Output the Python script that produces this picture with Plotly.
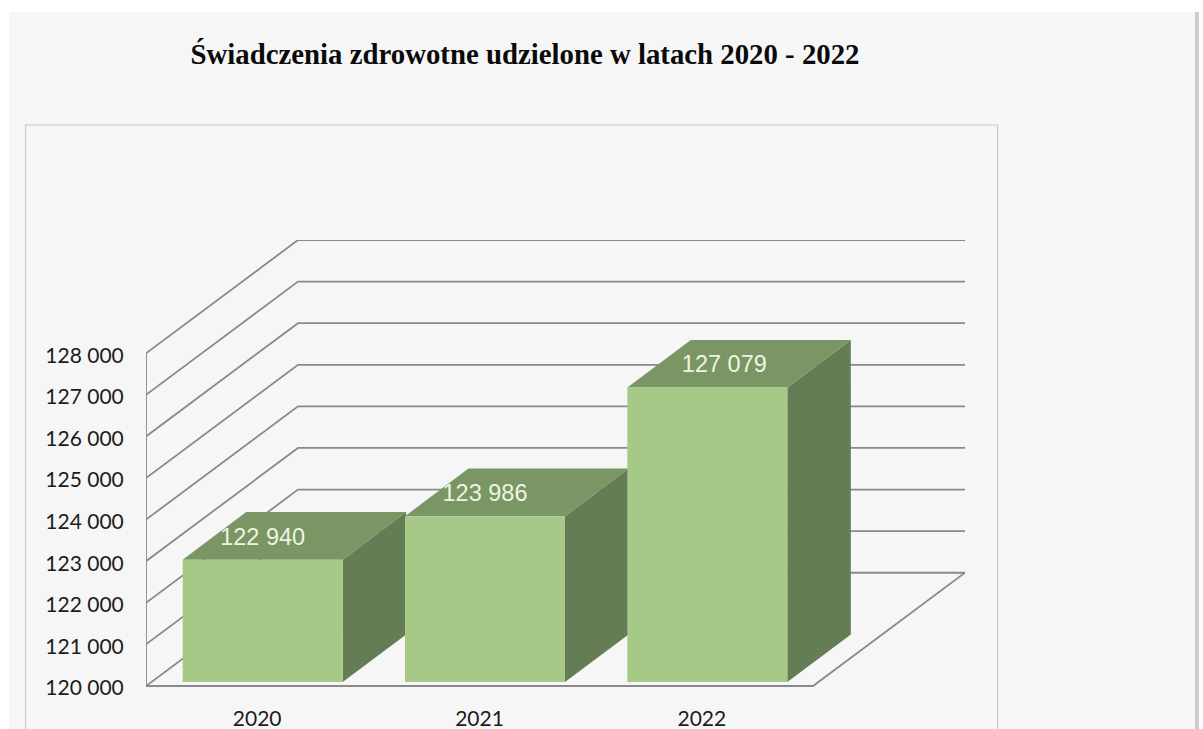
import plotly.graph_objects as go

years = ["2020", "2021", "2022"]
values = [122940, 123986, 127079]
value_labels = ["122 940", "123 986", "127 079"]
tick_values = [120000, 121000, 122000, 123000, 124000, 125000, 126000, 127000, 128000]
tick_labels = ["120 000", "121 000", "122 000", "123 000", "124 000", "125 000", "126 000", "127 000", "128 000"]
title_text = "Świadczenia zdrowotne udzielone w latach 2020 - 2022"

W, H = 1203, 729
PX_LEFT, PX_FRONT_RIGHT, PX_BACK_RIGHT = 146, 813, 965
PX_FLOOR, PX_BACK_TOP = 686, 240
PX_PER_CAT = (PX_FRONT_RIGHT - PX_LEFT) / 3
PX_PER_VAL = 41.5 / 1000
VMIN = tick_values[0]

def dx(px):
    return px / PX_PER_CAT

def dv(px):
    return px / PX_PER_VAL

WALL_DX, WALL_DV = dx(152), dv(113)
BAR_DX, BAR_DV = dx(63.5), dv(47.5)
GAP_DX, GAP_DV = dx(5.5), dv(4.0)
HALF = dx(80)
LABEL_NUDGE = [dx(0), dx(0), dx(17)]
LABEL_UP = dv(21)
TICK_PX = 2
TICK_NUDGE = dv(TICK_PX)

GRID = "#8a8a8a"
FRONT, TOP, SIDE = "#a6c988", "#7a9664", "#647d55"
PANEL, FRAME = "#f6f6f6", "#c9c9c9"

x_left, x_right = -0.5, 2.5
fig = go.Figure()

gx, gy = [], []
for v in tick_values:
    gx += [x_left, x_left + WALL_DX, x_right + WALL_DX, None]
    gy += [v, v + WALL_DV, v + WALL_DV, None]
gx += [x_left, x_left, None, x_left, x_right, x_right + WALL_DX]
gy += [tick_values[-1], VMIN, None, VMIN, VMIN, VMIN + WALL_DV]
fig.add_trace(go.Scatter(x=gx, y=gy, mode="lines", cliponaxis=False,
                         line=dict(color=GRID, width=1.8), hoverinfo="skip"))

for i, v in enumerate(values):
    l, r = i - HALF + GAP_DX, i + HALF + GAP_DX
    base = VMIN + GAP_DV
    top = v + GAP_DV
    fig.add_trace(go.Scatter(
        x=[r, r + BAR_DX, r + BAR_DX, r, r],
        y=[base, base + BAR_DV, top + BAR_DV, top, base],
        mode="lines", fill="toself", fillcolor=SIDE, line=dict(width=0), hoverinfo="skip"))
    fig.add_trace(go.Scatter(
        x=[l, r, r + BAR_DX, l + BAR_DX, l],
        y=[top, top, top + BAR_DV, top + BAR_DV, top],
        mode="lines", fill="toself", fillcolor=TOP, line=dict(width=0), hoverinfo="skip"))
    fig.add_trace(go.Scatter(
        x=[l, r, r, l, l],
        y=[base, base, top, top, base],
        mode="lines", fill="toself", fillcolor=FRONT, line=dict(width=0), hoverinfo="skip"))

fig.add_trace(go.Scatter(
    x=[i + GAP_DX + n for i, n in enumerate(LABEL_NUDGE)],
    y=[v + GAP_DV + LABEL_UP for v in values],
    mode="text", text=value_labels, textposition="middle center",
    textfont=dict(family="Liberation Sans", size=23.5, color="#eef4e2"),
    hoverinfo="skip"))

fig.update_layout(
    width=W, height=H, autosize=False,
    margin=dict(l=0, r=0, t=0, b=0, pad=0),
    paper_bgcolor="white", plot_bgcolor="rgba(0,0,0,0)",
    showlegend=False,
    title=dict(text=f"<b>{title_text}</b>", x=525 / W, xanchor="center", xref="paper",
               y=1 - 54 / H, yanchor="middle", yref="container",
               font=dict(family="Liberation Serif", size=28.8, color="#0a0a0a")),
    xaxis=dict(domain=[PX_LEFT / W, PX_BACK_RIGHT / W],
               range=[x_left, x_right + WALL_DX],
               tickmode="array", tickvals=[0, 1, 2], ticktext=years,
               ticks="outside", ticklen=12, tickcolor="rgba(0,0,0,0)",
               showgrid=False, zeroline=False, showline=False, automargin=False,
               tickfont=dict(family="Lato", size=21, color="#1c1c1c")),
    yaxis=dict(domain=[1 - (PX_FLOOR + TICK_PX) / H, 1 - PX_BACK_TOP / H],
               range=[VMIN - TICK_NUDGE, tick_values[-1] + WALL_DV],
               tickmode="array", tickvals=[v - TICK_NUDGE for v in tick_values], ticktext=tick_labels,
               ticks="outside", ticklen=17, tickcolor="rgba(0,0,0,0)",
               showgrid=False, zeroline=False, showline=False, automargin=False,
               tickfont=dict(family="Lato", size=21, color="#1c1c1c")),
    shapes=[
        dict(type="rect", xref="paper", yref="paper", layer="below",
             x0=9 / W, x1=1195 / W, y0=0, y1=1 - 12 / H,
             fillcolor=PANEL, line=dict(width=0)),
        dict(type="rect", xref="paper", yref="paper", layer="below",
             x0=1195 / W, x1=1199 / W, y0=0, y1=1 - 12 / H,
             fillcolor="#cccccc", line=dict(width=0)),
        dict(type="rect", xref="paper", yref="paper", layer="below",
             x0=25.5 / W, x1=997.5 / W, y0=-0.02, y1=1 - 125 / H,
             fillcolor="rgba(0,0,0,0)", line=dict(color=FRAME, width=1.2)),
    ],
)

fig.write_html("out.html", config={"displayModeBar": False},
               post_script="document.body.style.margin='0';document.documentElement.style.overflow='hidden';")
